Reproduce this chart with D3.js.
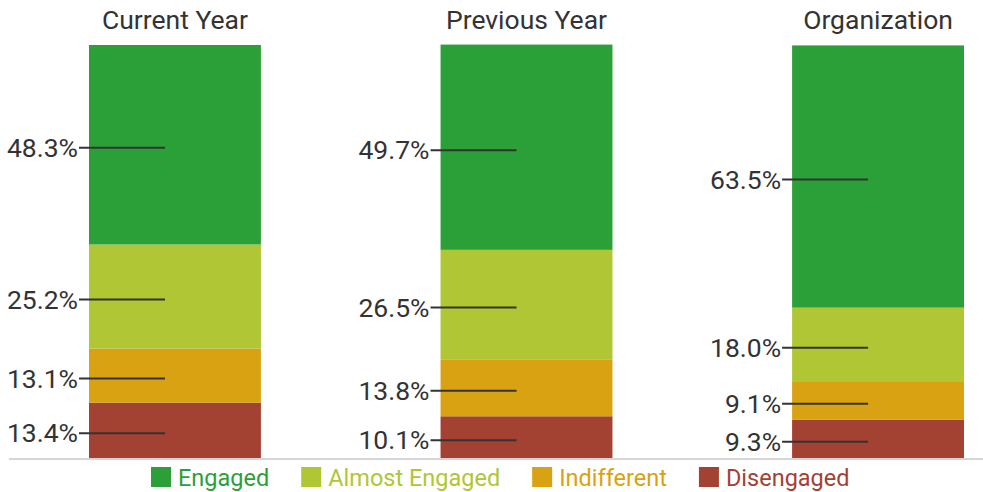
<!DOCTYPE html>
<html>
<head>
<meta charset="utf-8">
<script src="https://cdn.jsdelivr.net/npm/d3@7"></script>
<style>
  html, body { margin: 0; padding: 0; background: #fff; }
  svg { display: block; font-family: Roboto, "Noto Sans", sans-serif; }
</style>
</head>
<body>
<svg id="chart" width="983" height="492"></svg>
<script>
const categories = ["Current Year", "Previous Year", "Organization"];
const seriesNames = ["Disengaged", "Indifferent", "Almost Engaged", "Engaged"];
const engaged       = [48.3, 49.7, 63.5];
const almostEngaged = [25.2, 26.5, 18.0];
const indifferent   = [13.1, 13.8, 9.1];
const disengaged    = [13.4, 10.1, 9.3];
const legendOrder = ["Engaged", "Almost Engaged", "Indifferent", "Disengaged"];
const colors = {
  "Engaged": "#2ca038",
  "Almost Engaged": "#b0c634",
  "Indifferent": "#d9a212",
  "Disengaged": "#a34132"
};

const valuesBySeries = {
  "Disengaged": disengaged,
  "Indifferent": indifferent,
  "Almost Engaged": almostEngaged,
  "Engaged": engaged
};
const table = categories.map((c, i) => {
  const row = { category: c };
  seriesNames.forEach(s => row[s] = valuesBySeries[s][i]);
  return row;
});

const svg = d3.select("#chart");

const x = d3.scaleBand().domain(categories).range([89, 964]).paddingInner(0.511).paddingOuter(0);
const y = d3.scaleLinear().domain([0, 100]).range([458, 45]);

const layers = d3.stack().keys(seriesNames)(table);

const g = svg.append("g");
layers.forEach(layer => {
  g.selectAll(null).data(layer).enter().append("rect")
    .attr("x", d => x(d.data.category))
    .attr("width", x.bandwidth())
    .attr("y", d => y(d[1]))
    .attr("height", d => y(d[0]) - y(d[1]))
    .attr("fill", colors[layer.key]);
});

// baseline
svg.append("line")
  .attr("x1", 9).attr("x2", 983)
  .attr("y1", 459).attr("y2", 459)
  .attr("stroke", "#c8c8c8").attr("stroke-width", 1.5);

// labels with leader lines
layers.forEach(layer => {
  layer.forEach(d => {
    const cx = x(d.data.category);
    const ly = (y(d[0]) + y(d[1])) / 2 + 3;
    svg.append("line")
      .attr("x1", cx - 10).attr("x2", cx + 76)
      .attr("y1", ly).attr("y2", ly)
      .attr("stroke", "#333").attr("stroke-width", 2);
    svg.append("text")
      .attr("x", cx - 11).attr("y", ly + 9)
      .attr("text-anchor", "end")
      .attr("font-size", 26.5)
      .attr("fill", "#333")
      .text(d.data[layer.key].toFixed(1) + "%");
  });
});

// titles
svg.selectAll(".title").data(categories).enter().append("text")
  .attr("class", "title")
  .attr("x", d => x(d) + x.bandwidth() / 2)
  .attr("y", 29)
  .attr("text-anchor", "middle")
  .attr("font-size", 26.5)
  .attr("fill", "#333")
  .text(d => d);

// legend
const lg = svg.append("g");
let cursor = 0;
legendOrder.forEach(name => {
  const item = lg.append("g").attr("transform", `translate(${cursor},0)`);
  item.append("rect").attr("x", 0).attr("y", 467).attr("width", 20).attr("height", 20)
    .attr("fill", colors[name]);
  const t = item.append("text").attr("x", 27).attr("y", 486)
    .attr("font-size", 23.5).attr("fill", colors[name]).text(name);
  const w = t.node().getComputedTextLength();
  cursor += 27 + w + 32;
});
lg.attr("transform", `translate(151,0)`);
</script>
</body>
</html>
